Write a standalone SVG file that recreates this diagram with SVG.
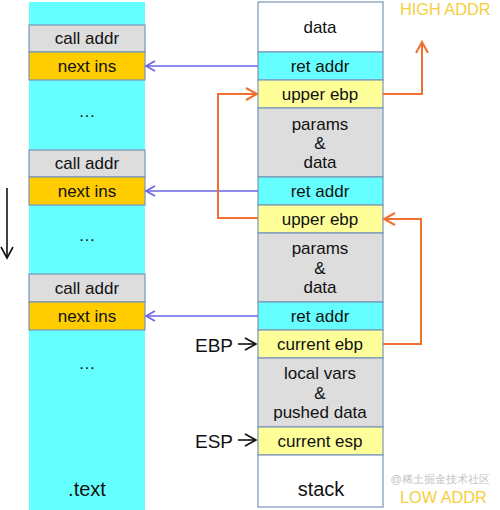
<svg xmlns="http://www.w3.org/2000/svg" width="500" height="510" viewBox="0 0 500 510">
<defs>
<style>
.cell{stroke:#7a95b8;stroke-width:1.2}
.cy{fill:#66ffff}
.gr{fill:#dddddd}
.gd{fill:#ffcc00}
.yl{fill:#ffff99}
.wh{fill:#ffffff}
text{font-family:"Liberation Sans",Arial,sans-serif;fill:#111;text-anchor:middle}
.t{font-size:17px}
.big{font-size:20px}
.lbl{font-size:19px;text-anchor:start}
.addr{font-size:16.3px;fill:#f5cf3c;text-anchor:start}
.blue{stroke:#6a64e8;stroke-width:1.6;fill:none}
.orange{stroke:#f07030;stroke-width:2;fill:none}
.blk{stroke:#111;stroke-width:1.6;fill:none}
</style>
<marker id="ab" markerWidth="12" markerHeight="12" refX="10" refY="6" orient="auto" markerUnits="userSpaceOnUse"><path d="M1,1 L10,6 L1,11" fill="none" stroke="#6a64e8" stroke-width="1.6"/></marker>
<marker id="ao" markerWidth="14" markerHeight="14" refX="12" refY="7" orient="auto" markerUnits="userSpaceOnUse"><path d="M1,1 L12,7 L1,13" fill="none" stroke="#f07030" stroke-width="2"/></marker>
<marker id="ak" markerWidth="14" markerHeight="14" refX="12" refY="7" orient="auto" markerUnits="userSpaceOnUse"><path d="M1,1 L12,7 L1,13" fill="none" stroke="#111" stroke-width="1.6"/></marker>
</defs>
<rect width="500" height="510" fill="#ffffff"/>

<g id="text-segment">
<rect x="29" y="2" width="116" height="508" class="cy"/>
<text class="t" x="87" y="117">…</text>
<text class="t" x="87" y="241">…</text>
<text class="t" x="87" y="369">…</text>
<text class="big" x="87" y="496">.text</text>
</g>
<g id="call1"><rect x="29" y="25" width="116" height="27" class="cell gr"/><text class="t" x="87" y="44">call addr</text></g>
<g id="next1"><rect x="29" y="52" width="116" height="28" class="cell gd"/><text class="t" x="87" y="72">next ins</text></g>
<g id="call2"><rect x="29" y="150" width="116" height="27" class="cell gr"/><text class="t" x="87" y="169">call addr</text></g>
<g id="next2"><rect x="29" y="177" width="116" height="28" class="cell gd"/><text class="t" x="87" y="197">next ins</text></g>
<g id="call3"><rect x="29" y="274" width="116" height="28" class="cell gr"/><text class="t" x="87" y="294">call addr</text></g>
<g id="next3"><rect x="29" y="302" width="116" height="28" class="cell gd"/><text class="t" x="87" y="322">next ins</text></g>

<g id="data"><rect x="258" y="2" width="125" height="50" class="cell wh"/><text class="t" x="320" y="33">data</text></g>
<g id="ret1"><rect x="258" y="52" width="125" height="28" class="cell cy"/><text class="t" x="320" y="72">ret addr</text></g>
<g id="upper1"><rect x="258" y="80" width="125" height="28" class="cell yl"/><text class="t" x="320" y="100">upper ebp</text></g>
<g id="params1"><rect x="258" y="108" width="125" height="69" class="cell gr"/><text class="t" x="320" y="130">params</text><text class="t" x="320" y="149">&amp;</text><text class="t" x="320" y="168">data</text></g>
<g id="ret2"><rect x="258" y="177" width="125" height="28" class="cell cy"/><text class="t" x="320" y="197">ret addr</text></g>
<g id="upper2"><rect x="258" y="205" width="125" height="28" class="cell yl"/><text class="t" x="320" y="225">upper ebp</text></g>
<g id="params2"><rect x="258" y="233" width="125" height="69" class="cell gr"/><text class="t" x="320" y="254">params</text><text class="t" x="320" y="274">&amp;</text><text class="t" x="320" y="293">data</text></g>
<g id="ret3"><rect x="258" y="302" width="125" height="28" class="cell cy"/><text class="t" x="320" y="322">ret addr</text></g>
<g id="curebp"><rect x="258" y="330" width="125" height="28" class="cell yl"/><text class="t" x="320" y="350">current ebp</text></g>
<g id="locals"><rect x="258" y="358" width="125" height="69" class="cell gr"/><text class="t" x="320" y="379">local vars</text><text class="t" x="320" y="399">&amp;</text><text class="t" x="320" y="418">pushed data</text></g>
<g id="curesp"><rect x="258" y="427" width="125" height="28" class="cell yl"/><text class="t" x="320" y="447">current esp</text></g>
<g id="stack"><rect x="258" y="455" width="125" height="52" class="cell wh"/><text class="big" x="321" y="496">stack</text></g>

<g id="labels">
<text class="addr" x="400" y="15">HIGH ADDR</text>
<text x="440" y="483" style="font-size:11px;fill:#c4c4c4">@稀土掘金技术社区</text>
<text class="addr" x="400" y="503">LOW ADDR</text>
<text class="lbl" x="195" y="352">EBP</text>
<text class="lbl" x="195" y="448">ESP</text>
</g>

<g id="connectors">
<line class="blue" x1="258" y1="66" x2="146" y2="66" marker-end="url(#ab)"/>
<line class="blue" x1="258" y1="191" x2="146" y2="191" marker-end="url(#ab)"/>
<line class="blue" x1="258" y1="316" x2="146" y2="316" marker-end="url(#ab)"/>
<polyline class="orange" points="383,94 422,94 422,42" marker-end="url(#ao)"/>
<polyline class="orange" points="258,218 218,218 218,94 257,94" marker-end="url(#ao)"/>
<polyline class="orange" points="383,344 421,344 421,219 384,219" marker-end="url(#ao)"/>
<line class="blk" x1="238" y1="344" x2="256" y2="344" marker-end="url(#ak)"/>
<line class="blk" x1="238" y1="440" x2="256" y2="440" marker-end="url(#ak)"/>
<line class="blk" x1="7" y1="188" x2="7" y2="258" marker-end="url(#ak)"/>
</g>
</svg>
